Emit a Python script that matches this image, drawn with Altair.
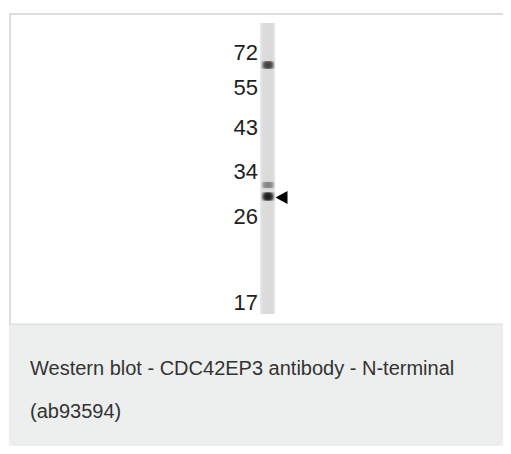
import altair as alt
import pandas as pd

# ---- data read from the blot ----
marker_kda = ["72", "55", "43", "34", "26", "17"]
marker_migration = [44.7, 80.3, 120.3, 163.7, 208.7, 294.5]   # migration distance (px units of the blot)
band_migration = [57.0, 177.0, 188.5]
band_intensity = [0.8, 0.45, 1.0]
target_band = 189.5
caption_lines = ["Western blot - CDC42EP3 antibody - N-terminal", "(ab93594)"]

W, H = 495, 438
xs = alt.Scale(domain=[0, W], range=[0, W], nice=False, zero=False)
ys = alt.Scale(domain=[0, H], range=[0, H], nice=False, zero=False)
FONT = "Liberation Sans"

def X(f):
    return alt.X(f, type="quantitative", scale=xs, axis=None)

def Y(f):
    return alt.Y(f, type="quantitative", scale=ys, axis=None)

panel = pd.DataFrame({"x": [1], "x2": [W], "y": [316], "y2": [H]})
caption_bg = alt.Chart(panel).mark_rect(color="#edefee").encode(
    x=X("x"), x2="x2", y=Y("y"), y2="y2")

frame = pd.DataFrame({"x": [1, 1, 1], "x2": [W, 3, W], "y": [5, 5, 315.5], "y2": [7, 316, 316.8]})
frame_l = alt.Chart(frame).mark_rect(color="#dedede").encode(
    x=X("x"), x2="x2", y=Y("y"), y2="y2")

lane = pd.DataFrame({"x": [252], "x2": [267], "y": [15], "y2": [306]})
lane_l = alt.Chart(lane).mark_rect(
    color=alt.Gradient(gradient="linear", x1=0, x2=1, y1=0, y2=0,
                       stops=[alt.GradientStop(offset=0, color="#ebebeb"),
                              alt.GradientStop(offset=0.2, color="#dcdcdc"),
                              alt.GradientStop(offset=0.8, color="#d9d9d9"),
                              alt.GradientStop(offset=1, color="#e6e6e6")])
).encode(x=X("x"), x2="x2", y=Y("y"), y2="y2")

bands = pd.DataFrame({"m": band_migration, "i": band_intensity})
bands["top"] = bands["m"] - 2.2 - 2.0 * bands["i"]
bands["bot"] = bands["m"] + 2.2 + 2.0 * bands["i"]
bands["x"] = 253.5
bands["x2"] = 266.5
band_l = alt.Chart(bands).mark_rect(
    color=alt.Gradient(gradient="radial", x1=0.5, y1=0.5, x2=0.5, y2=0.5, r1=0, r2=0.6,
                       stops=[alt.GradientStop(offset=0, color="rgba(20,20,20,1)"),
                              alt.GradientStop(offset=0.5, color="rgba(25,25,25,0.85)"),
                              alt.GradientStop(offset=0.85, color="rgba(60,60,60,0.25)"),
                              alt.GradientStop(offset=1, color="rgba(80,80,80,0)")])
).encode(x=X("x"), x2="x2", y=Y("top"), y2="bot",
         opacity=alt.Opacity("i:Q", scale=None))

markers = pd.DataFrame({"kda": marker_kda, "m": marker_migration, "x": [250] * 6})
marker_l = alt.Chart(markers).mark_text(
    align="right", baseline="middle", font=FONT, fontSize=22, color="#1e1e1e"
).encode(x=X("x"), y=Y("m"), text="kda:N")

arrow = pd.DataFrame({"x": [273.5], "m": [target_band]})
arrow_l = alt.Chart(arrow).mark_point(
    shape="M1,-1.1L-1,0L1,1.1Z", size=144, filled=True, color="#000", opacity=1
).encode(x=X("x"), y=Y("m"))

cap = pd.DataFrame({"t": caption_lines, "x": [22, 22], "y": [367, 410]})
cap_l = alt.Chart(cap).mark_text(
    align="left", baseline="alphabetic", font=FONT, fontSize=20, color="#333"
).encode(x=X("x"), y=Y("y"), text="t:N")

chart = alt.layer(caption_bg, frame_l, lane_l, band_l, marker_l, arrow_l, cap_l).properties(
    width=W, height=H, padding=0, autosize=alt.AutoSizeParams(type="none"),
    background="white"
).configure_view(stroke=None)

chart.save("out.html", embed_options={"renderer": "svg", "actions": False})
